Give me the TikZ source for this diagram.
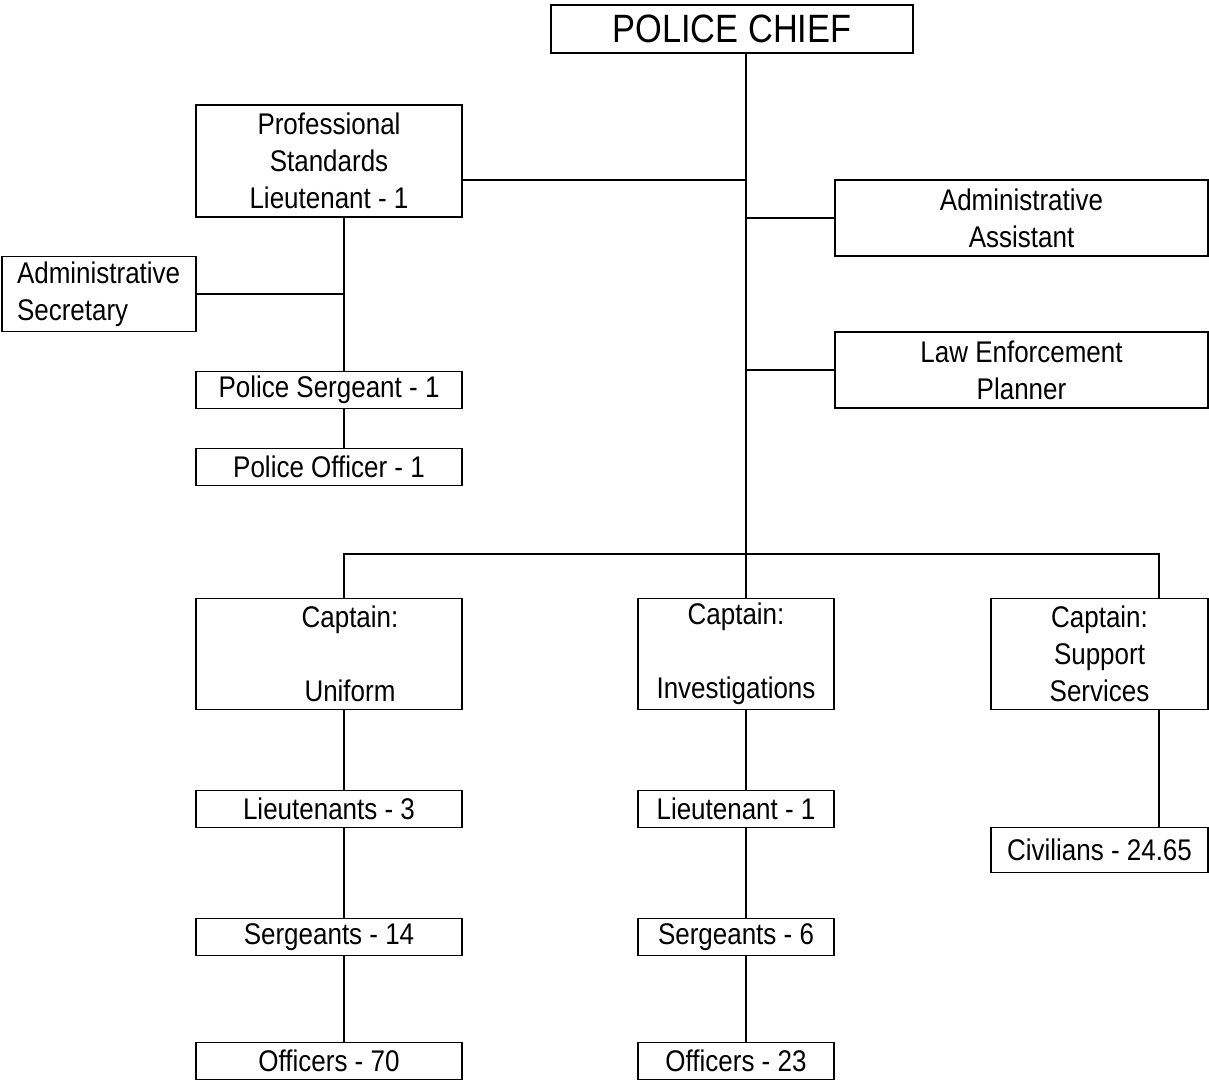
\documentclass[tikz,border=0pt]{standalone}
\usepackage{fontspec}
\setmainfont[FakeStretch=0.87]{Liberation Sans}

\begin{document}
\begin{tikzpicture}[x=0.02cm, y=-0.02cm, line width=1.1pt,
  box/.style = {draw, rectangle, inner sep=0pt, align=center, font=\fontsize{17}{21}\selectfont},
  wide/.style = {box, minimum width=5.32cm},
  mid/.style = {box, minimum width=3.92cm},
  thin/.style = {minimum height=0.74cm}]
\useasboundingbox (0,0) rectangle (1209,1080);
\node[box, minimum width=7.24cm, minimum height=0.96cm, font=\fontsize{22.5}{26}\selectfont] (chief) at (732,29) {POLICE CHIEF};
\node[wide, minimum height=2.24cm] (prof) at (329,161) {Professional\\Standards\\Lieutenant - 1};
\node[box, align=left, text width=3.28cm, minimum width=3.88cm, minimum height=1.5cm] (sec) at (99,294) {Administrative\\Secretary};
\node[wide, thin] (psgt) at (329,390) {Police Sergeant - 1};
\node[wide, thin] (poff) at (329,467) {Police Officer - 1};
\node[box, minimum width=7.46cm, minimum height=1.52cm] (asst) at (1021.5,218) {Administrative\\Assistant};
\node[box, minimum width=7.46cm, minimum height=1.52cm] (lep) at (1021.5,370) {Law Enforcement\\Planner};
\node[wide, minimum height=2.22cm, label={[font=\fontsize{17}{21}\selectfont, align=center, xshift=0.42cm]center:{Captain:\\ \strut\\Uniform}}] (uni) at (329,654) {};
\node[mid, minimum height=2.22cm] (inv) at (736,654) {Captain:\\ \strut\\Investigations};
\node[box, minimum width=4.34cm, minimum height=2.22cm] (sup) at (1099.5,654) {Captain:\\Support\\Services};
\node[wide, thin] (lt3) at (329,809) {Lieutenants - 3};
\node[wide, thin] (sg14) at (329,937) {Sergeants - 14};
\node[wide, thin] (of70) at (329,1061) {Officers - 70};
\node[mid, thin] (lt1) at (736,809) {Lieutenant - 1};
\node[mid, thin] (sg6) at (736,937) {Sergeants - 6};
\node[mid, thin] (of23) at (736,1061) {Officers - 23};
\node[box, minimum width=4.34cm, minimum height=0.9cm] (civ) at (1099.5,850) {Civilians - 24.65};

% trunk and bus
\coordinate (top) at (746,554);
\coordinate (a) at (344,554);
\coordinate (c) at (1159,554);
\coordinate (j) at (746,180);
\draw (chief.south -| top) -- (inv.north -| top);
\draw (uni.north -| a) -- (a) -- (c) -- (sup.north -| c);
\draw (j) -- (j -| prof.east);
\draw (asst.west) -- (asst.west -| top);
\draw (lep.west) -- (lep.west -| top);
\draw (prof.south -| a) -- (psgt.north -| a);
\draw (sec.east) -- (sec.east -| a);
\draw (psgt.south -| a) -- (poff.north -| a);
\foreach \u/\l in {uni/lt3, lt3/sg14, sg14/of70}
  \draw (\u.south -| a) -- (\l.north -| a);
\foreach \u/\l in {inv/lt1, lt1/sg6, sg6/of23}
  \draw (\u.south -| top) -- (\l.north -| top);
\draw (sup.south -| c) -- (civ.north -| c);
\end{tikzpicture}
\end{document}
